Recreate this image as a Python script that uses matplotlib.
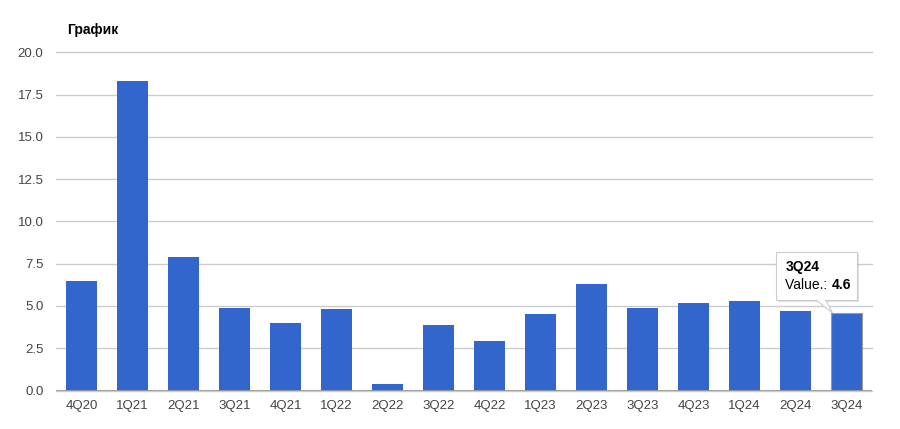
import matplotlib

matplotlib.use("Agg")
import matplotlib.pyplot as plt
import matplotlib.transforms as mtransforms
from matplotlib.patches import Polygon, FancyBboxPatch

quarters = ["4Q20", "1Q21", "2Q21", "3Q21", "4Q21", "1Q22", "2Q22", "3Q22",
            "4Q22", "1Q23", "2Q23", "3Q23", "4Q23", "1Q24", "2Q24", "3Q24"]
values = [6.5, 18.3, 7.9, 4.9, 4.0, 4.8, 0.4, 3.9,
          2.9, 4.5, 6.3, 4.9, 5.2, 5.3, 4.7, 4.6]
y_ticks = [0.0, 2.5, 5.0, 7.5, 10.0, 12.5, 15.0, 17.5, 20.0]
title = "График"
hover_index = 15

plt.rcParams["font.family"] = ["Liberation Sans", "DejaVu Sans"]

fig = plt.figure(figsize=(9, 4.29), dpi=100)
W, H = 900, 429
ax = fig.add_axes([56 / W, 1 - 390.5 / H, 816 / W, 338 / H])

x = list(range(len(quarters)))
ax.bar(x, values, width=0.6, color="#3366cc", zorder=2)
# hovered bar gets a faint outline
ax.bar([hover_index], [values[hover_index]], width=0.6, color="#3366cc",
       edgecolor="#9a9a9a", linewidth=0.8, zorder=3)

ax.set_xlim(-0.5, len(quarters) - 0.5)
ax.set_ylim(0, 20)
ax.set_yticks(y_ticks)
ax.set_yticklabels([f"{v:.1f}" for v in y_ticks])
ax.set_xticks(x)
ax.set_xticklabels(quarters)
ax.tick_params(axis="both", length=0, labelsize=9.5, colors="#444444")
ax.tick_params(axis="y", pad=9)
ax.tick_params(axis="x", pad=7)
for s in ax.spines.values():
    s.set_visible(False)
ax.grid(axis="y", color="#cccccc", linewidth=1, zorder=0)
for gl in ax.get_ygridlines():
    gl.set_clip_on(False)
ax.axhline(0, color="#999999", linewidth=1.3, zorder=4)

fig.text(67 / W, 1 - 30 / H, title, fontsize=10, fontweight="bold",
         color="#000000", va="center", ha="left")

# tooltip anchored to the hovered bar top, geometry in pixels (dpi 100)
px = 0.01
anchor = mtransforms.ScaledTranslation(hover_index, values[hover_index], ax.transData)
trans = fig.dpi_scale_trans + anchor
left, right, bottom, top = -70, 11, 12.5, 60.5
shadow = FancyBboxPatch((left * px + 0.015, (bottom - 1.5) * px), (right - left) * px,
                        (top - bottom) * px, boxstyle="square,pad=0",
                        transform=trans, facecolor="#000000", alpha=0.12,
                        edgecolor="none", zorder=5, clip_on=False)
ax.add_patch(shadow)
box = FancyBboxPatch((left * px, bottom * px), (right - left) * px, (top - bottom) * px,
                     boxstyle="square,pad=0", transform=trans, facecolor="white",
                     edgecolor="#cccccc", linewidth=0.8, zorder=6, clip_on=False)
ax.add_patch(box)
tail = Polygon([(-31 * px, (bottom + 0.6) * px), (-14 * px, 0), (-21 * px, (bottom + 0.6) * px)],
               closed=False, transform=trans, facecolor="white", edgecolor="#cccccc",
               linewidth=0.8, zorder=7, clip_on=False)
ax.add_patch(tail)

label = ax.text(-61 * px, 46 * px, quarters[hover_index], transform=trans,
                fontsize=10, fontweight="bold", color="#000000",
                va="center", ha="left", zorder=8)
val_lbl = ax.text(-61 * px, 27.5 * px, "Value.: ", transform=trans,
                  fontsize=10, color="#000000", va="center", ha="left", zorder=8)
ax.annotate(f"{values[hover_index]}", xy=(1, 0.5), xycoords=val_lbl,
            va="center", ha="left", fontsize=10, fontweight="bold",
            color="#000000", zorder=8)

fig.savefig("out.png", dpi=100)
